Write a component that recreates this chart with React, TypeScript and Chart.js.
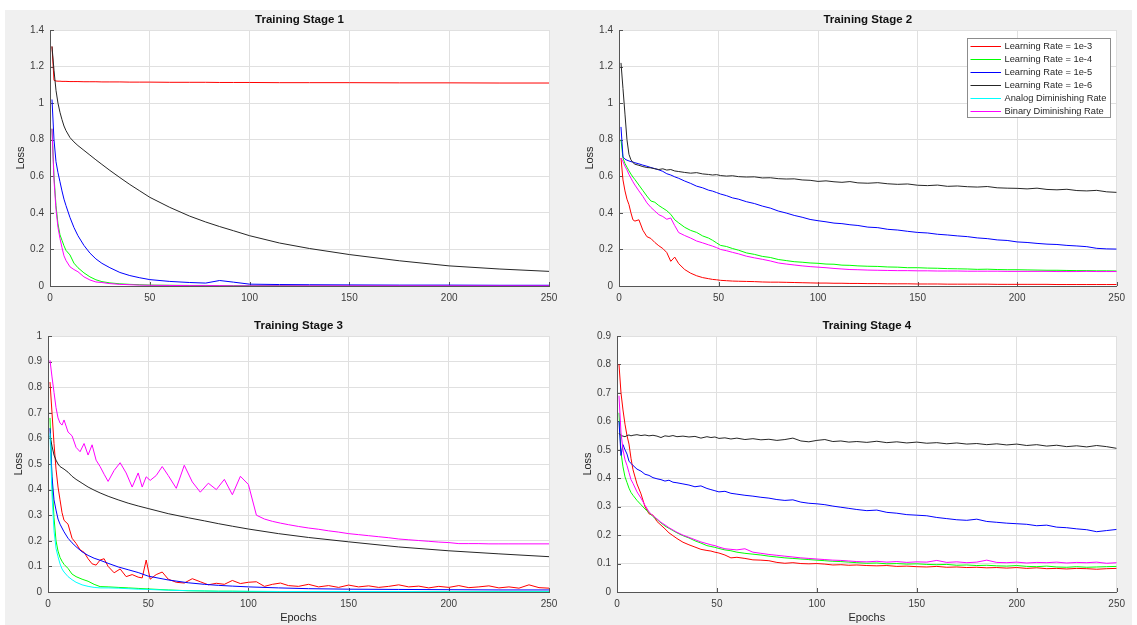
import React, { useEffect, useRef } from 'react';
import { Chart, registerables } from 'chart.js';

Chart.register(...registerables);

// ---------------- data ----------------
// epoch grids (x values)
const E_SMOOTH = [1, 2, 3, 4, 5, 6, 7, 8, 10, 12, 14, 17, 20, 23, 26, 30, 35, 40, 45, 50, 60, 70, 78, 85, 92, 100, 115, 130, 150, 175, 200, 225, 250];
const E_NOISY = [
  1, 2, 3, 4, 5, 6, 7, 8, 10, 12,
  14, 16, 18, 20, 22, 24, 26, 28, 30, 33,
  36, 39, 42, 45, 47, 49, 51, 54, 57, 60,
  64, 68, 72, 76, 80, 84, 88, 92, 96, 100,
  104, 108, 112, 116, 120, 125, 130, 135, 140, 145,
  150, 155, 160, 165, 170, 175, 180, 185, 190, 195,
  200, 205, 210, 215, 220, 225, 230, 235, 240, 245,
  250,
];

// Training Stage 1 (on E_SMOOTH)
const S1_LR3 = [1.31, 1.125, 1.121, 1.12, 1.12, 1.119, 1.119, 1.119, 1.118, 1.118, 1.118, 1.117, 1.117, 1.117, 1.116, 1.116, 1.116, 1.115, 1.115, 1.115, 1.114, 1.114, 1.114, 1.113, 1.113, 1.113, 1.112, 1.112, 1.112, 1.111, 1.111, 1.11, 1.11];
const S1_LR4 = [0.86, 0.6, 0.44, 0.34, 0.28, 0.25, 0.22, 0.195, 0.17, 0.125, 0.1, 0.072, 0.05, 0.034, 0.024, 0.017, 0.012, 0.009, 0.007, 0.005, 0.004, 0.003, 0.003, 0.002, 0.002, 0.002, 0.002, 0.001, 0.001, 0.001, 0.001, 0.001, 0.001];
const S1_LR5 = [1.02, 0.8, 0.68, 0.62, 0.57, 0.52, 0.475, 0.44, 0.375, 0.32, 0.275, 0.222, 0.18, 0.148, 0.124, 0.1, 0.074, 0.057, 0.045, 0.035, 0.025, 0.019, 0.016, 0.03, 0.021, 0.01, 0.008, 0.007, 0.006, 0.005, 0.005, 0.004, 0.004];
const S1_LR6 = [1.31, 1.18, 1.07, 1.0, 0.95, 0.91, 0.875, 0.85, 0.812, 0.788, 0.768, 0.742, 0.716, 0.69, 0.665, 0.632, 0.593, 0.555, 0.52, 0.485, 0.43, 0.382, 0.35, 0.325, 0.302, 0.275, 0.235, 0.205, 0.172, 0.138, 0.11, 0.093, 0.08];
const S1_BIN = [0.86, 0.58, 0.42, 0.32, 0.26, 0.21, 0.165, 0.14, 0.105, 0.09, 0.078, 0.05, 0.033, 0.022, 0.019, 0.013, 0.009, 0.007, 0.005, 0.004, 0.003, 0.002, 0.002, 0.002, 0.001, 0.001, 0.001, 0.001, 0.001, 0.001, 0.001, 0.001, 0.001];

// Training Stage 2 (on E_NOISY)
const S2_LR3 = [
  0.7, 0.58, 0.52, 0.475, 0.445, 0.4, 0.362, 0.355, 0.362, 0.305,
  0.27, 0.26, 0.238, 0.22, 0.205, 0.183, 0.135, 0.158, 0.122, 0.09,
  0.07, 0.056, 0.046, 0.04, 0.036, 0.034, 0.031, 0.029, 0.027, 0.026,
  0.025, 0.024, 0.022, 0.021, 0.021, 0.02, 0.019, 0.018, 0.017, 0.016,
  0.016, 0.015, 0.015, 0.014, 0.014, 0.013, 0.013, 0.012, 0.012, 0.012,
  0.011, 0.011, 0.011, 0.01, 0.01, 0.01, 0.01, 0.01, 0.009, 0.009,
  0.009, 0.009, 0.009, 0.009, 0.008, 0.008, 0.008, 0.008, 0.008, 0.008,
  0.008,
];
const S2_LR4 = [
  0.8, 0.7, 0.67, 0.65, 0.63, 0.612, 0.596, 0.582, 0.552, 0.522,
  0.492, 0.465, 0.458, 0.44, 0.426, 0.412, 0.392, 0.362, 0.345, 0.321,
  0.304, 0.293, 0.274, 0.262, 0.25, 0.236, 0.222, 0.216, 0.205, 0.196,
  0.181, 0.173, 0.162, 0.156, 0.145, 0.139, 0.133, 0.13, 0.126, 0.124,
  0.12, 0.119, 0.114, 0.113, 0.11, 0.108, 0.107, 0.104, 0.103, 0.1,
  0.1, 0.098, 0.097, 0.095, 0.094, 0.093, 0.091, 0.092, 0.09, 0.089,
  0.089, 0.088, 0.087, 0.086, 0.086, 0.085, 0.084, 0.084, 0.083, 0.083,
  0.082,
];
const S2_LR5 = [
  0.87, 0.705, 0.694, 0.688, 0.684, 0.68, 0.678, 0.674, 0.668, 0.661,
  0.655, 0.648, 0.642, 0.635, 0.627, 0.614, 0.607, 0.597, 0.589, 0.574,
  0.561, 0.546, 0.537, 0.524, 0.519, 0.511, 0.503, 0.494, 0.482, 0.475,
  0.461, 0.451, 0.437, 0.426, 0.41, 0.399, 0.386, 0.376, 0.364, 0.357,
  0.351, 0.344, 0.341, 0.335, 0.331, 0.322, 0.319, 0.31, 0.306, 0.299,
  0.293, 0.29, 0.283, 0.279, 0.274, 0.27, 0.263, 0.259, 0.252, 0.249,
  0.241, 0.238, 0.233, 0.229, 0.227, 0.222, 0.219, 0.215, 0.206, 0.203,
  0.202,
];
const S2_LR6 = [
  1.22, 1.08, 0.94, 0.8, 0.72, 0.69, 0.675, 0.666, 0.66, 0.653,
  0.648, 0.646, 0.641, 0.637, 0.641, 0.634, 0.637, 0.629, 0.626, 0.621,
  0.617, 0.62, 0.613, 0.61, 0.607, 0.609, 0.604, 0.601, 0.603, 0.598,
  0.596, 0.597, 0.591, 0.592, 0.587, 0.585, 0.586, 0.58, 0.578, 0.572,
  0.575, 0.57, 0.567, 0.571, 0.564, 0.562, 0.565, 0.559, 0.556, 0.558,
  0.551, 0.549, 0.552, 0.545, 0.547, 0.543, 0.541, 0.544, 0.537, 0.535,
  0.534, 0.531, 0.535, 0.528, 0.526, 0.529, 0.522, 0.52, 0.523, 0.515,
  0.512,
];
const S2_BIN = [
  0.7, 0.68, 0.655, 0.635, 0.61, 0.59, 0.57, 0.552, 0.52, 0.49,
  0.455, 0.43, 0.41, 0.39, 0.38, 0.365, 0.372, 0.33, 0.292, 0.276,
  0.262, 0.246, 0.236, 0.225, 0.218, 0.21, 0.2, 0.193, 0.184, 0.176,
  0.163, 0.154, 0.146, 0.137, 0.126, 0.12, 0.115, 0.11, 0.106, 0.103,
  0.1, 0.096, 0.093, 0.09, 0.089, 0.087, 0.086, 0.085, 0.084, 0.084,
  0.083, 0.083, 0.082, 0.082, 0.082, 0.081, 0.081, 0.081, 0.081, 0.08,
  0.08, 0.08, 0.08, 0.08, 0.079, 0.079, 0.079, 0.08, 0.079, 0.079,
  0.079,
];

// Training Stage 3
const S3_LR3 = [
  0.82, 0.7, 0.58, 0.48, 0.41, 0.36, 0.31, 0.28, 0.265, 0.21,
  0.19, 0.165, 0.155, 0.13, 0.11, 0.105, 0.125, 0.13, 0.1, 0.075,
  0.09, 0.06, 0.068, 0.058, 0.055, 0.125, 0.05, 0.068, 0.078, 0.05,
  0.038, 0.035, 0.052, 0.04, 0.028, 0.034, 0.03, 0.045, 0.033, 0.038,
  0.04, 0.022, 0.03, 0.035, 0.025, 0.022, 0.03, 0.02, 0.025, 0.018,
  0.027, 0.02, 0.024, 0.018, 0.022, 0.028, 0.02, 0.023, 0.016, 0.022,
  0.018, 0.025, 0.017, 0.02, 0.024, 0.016, 0.02, 0.015, 0.028, 0.017,
  0.015,
];
const S3_LR4 = [0.68, 0.43, 0.29, 0.2, 0.16, 0.135, 0.12, 0.108, 0.092, 0.07, 0.06, 0.05, 0.042, 0.03, 0.021, 0.02, 0.018, 0.016, 0.014, 0.012, 0.008, 0.005, 0.004, 0.003, 0.003, 0.002, 0.002, 0.001, 0.001, 0.001, 0.001, 0.001, 0.001];
const S3_LR5 = [0.64, 0.45, 0.36, 0.32, 0.285, 0.265, 0.25, 0.235, 0.21, 0.192, 0.177, 0.157, 0.143, 0.132, 0.124, 0.112, 0.098, 0.087, 0.076, 0.062, 0.047, 0.036, 0.03, 0.026, 0.023, 0.02, 0.016, 0.013, 0.011, 0.01, 0.009, 0.008, 0.008];
const S3_LR6 = [0.61, 0.57, 0.535, 0.515, 0.5, 0.49, 0.485, 0.48, 0.468, 0.452, 0.44, 0.425, 0.41, 0.398, 0.387, 0.374, 0.36, 0.347, 0.336, 0.326, 0.306, 0.29, 0.278, 0.267, 0.257, 0.246, 0.228, 0.213, 0.196, 0.176, 0.161, 0.149, 0.138];
const S3_ANA = [0.62, 0.38, 0.24, 0.17, 0.138, 0.11, 0.09, 0.078, 0.06, 0.048, 0.038, 0.028, 0.022, 0.018, 0.016, 0.016, 0.015, 0.013, 0.011, 0.01, 0.007, 0.005, 0.004, 0.003, 0.003, 0.003, 0.002, 0.002, 0.002, 0.002, 0.001, 0.001, 0.001];
const S3_BIN = [
  0.905, 0.84, 0.78, 0.72, 0.68, 0.66, 0.652, 0.672, 0.625, 0.61,
  0.565, 0.548, 0.58, 0.535, 0.575, 0.515, 0.49, 0.46, 0.432, 0.475,
  0.505, 0.465, 0.41, 0.465, 0.41, 0.45, 0.436, 0.455, 0.49, 0.455,
  0.405, 0.495, 0.43, 0.39, 0.425, 0.4, 0.44, 0.38, 0.452, 0.42,
  0.3, 0.285, 0.276, 0.269, 0.263, 0.256, 0.25, 0.245, 0.239, 0.234,
  0.228, 0.224, 0.22, 0.216, 0.212, 0.207, 0.204, 0.201, 0.198, 0.195,
  0.193, 0.189, 0.189, 0.189, 0.188, 0.188, 0.188, 0.188, 0.188, 0.188,
  0.188,
];

// Training Stage 4 (on E_NOISY)
const S4_LR3 = [
  0.8, 0.7, 0.64, 0.59, 0.55, 0.52, 0.47, 0.43, 0.38, 0.345,
  0.3, 0.275, 0.27, 0.248, 0.235, 0.222, 0.208, 0.198, 0.188, 0.175,
  0.166, 0.158, 0.15, 0.146, 0.144, 0.14, 0.137, 0.13, 0.12, 0.122,
  0.118, 0.113, 0.112, 0.11, 0.104, 0.101, 0.103, 0.1, 0.099, 0.1,
  0.098, 0.095, 0.096, 0.094, 0.095, 0.093, 0.092, 0.093, 0.09, 0.091,
  0.089, 0.088, 0.09, 0.087, 0.088, 0.086, 0.087, 0.085, 0.086, 0.084,
  0.086, 0.083, 0.085, 0.082, 0.083, 0.081, 0.083, 0.082, 0.08, 0.082,
  0.083,
];
const S4_LR4 = [
  0.63, 0.49, 0.44, 0.405, 0.385, 0.365, 0.35, 0.34, 0.322, 0.307,
  0.292, 0.28, 0.265, 0.255, 0.243, 0.232, 0.224, 0.216, 0.208, 0.198,
  0.19, 0.18, 0.172, 0.163, 0.16, 0.157, 0.153, 0.148, 0.145, 0.14,
  0.136, 0.133, 0.13, 0.126, 0.123, 0.12, 0.118, 0.116, 0.114, 0.112,
  0.11, 0.108, 0.107, 0.105, 0.103, 0.101, 0.102, 0.099, 0.1, 0.098,
  0.099, 0.097, 0.096, 0.097, 0.094, 0.095, 0.093, 0.094, 0.092, 0.091,
  0.093, 0.09, 0.089, 0.091, 0.088, 0.087, 0.089, 0.087, 0.088, 0.089,
  0.09,
];
const S4_LR5 = [
  0.6, 0.48, 0.518, 0.5, 0.485, 0.46, 0.452, 0.445, 0.432, 0.425,
  0.414, 0.41, 0.402, 0.398, 0.395, 0.39, 0.393, 0.386, 0.384, 0.38,
  0.376, 0.37, 0.373, 0.364, 0.36, 0.356, 0.352, 0.354, 0.347, 0.344,
  0.34, 0.337, 0.333, 0.33, 0.325, 0.322, 0.324, 0.316, 0.312, 0.31,
  0.307, 0.302, 0.298, 0.294, 0.29, 0.286, 0.288, 0.28, 0.277, 0.272,
  0.27, 0.268, 0.262, 0.258, 0.254, 0.252, 0.256, 0.248, 0.245, 0.242,
  0.24, 0.238, 0.233, 0.235, 0.228, 0.226, 0.222, 0.219, 0.212, 0.216,
  0.22,
];
const S4_LR6 = [
  0.558, 0.55, 0.548, 0.546, 0.55, 0.552, 0.549, 0.551, 0.553, 0.55,
  0.552, 0.549, 0.551, 0.548, 0.543, 0.549, 0.547, 0.55, 0.546, 0.548,
  0.545, 0.547, 0.541, 0.546, 0.543, 0.545, 0.54, 0.542, 0.538, 0.541,
  0.536, 0.539, 0.535, 0.537, 0.533, 0.536, 0.541, 0.531, 0.528, 0.533,
  0.536, 0.529, 0.531, 0.527, 0.529, 0.526, 0.53, 0.525, 0.528, 0.524,
  0.527, 0.523, 0.525, 0.521, 0.524, 0.52, 0.522, 0.518, 0.521, 0.517,
  0.52, 0.515, 0.518, 0.513, 0.516, 0.511, 0.514, 0.51, 0.515, 0.511,
  0.505,
];
const S4_BIN = [
  0.69, 0.56, 0.5, 0.465, 0.445, 0.42, 0.395, 0.382, 0.352, 0.33,
  0.305, 0.282, 0.268, 0.257, 0.245, 0.236, 0.226, 0.218, 0.21, 0.2,
  0.192, 0.184, 0.176, 0.17, 0.166, 0.163, 0.158, 0.152, 0.15, 0.148,
  0.152, 0.14, 0.136, 0.132, 0.129, 0.126, 0.123, 0.12, 0.118, 0.116,
  0.114, 0.112, 0.111, 0.109, 0.107, 0.106, 0.108, 0.105, 0.107, 0.104,
  0.106, 0.105, 0.111, 0.104, 0.106, 0.103, 0.105, 0.112, 0.104, 0.103,
  0.105, 0.102, 0.104, 0.103, 0.105, 0.102, 0.104, 0.103, 0.105, 0.101,
  0.103,
];

const LEGEND_LABELS = [
  'Learning Rate = 1e-3',
  'Learning Rate = 1e-4',
  'Learning Rate = 1e-5',
  'Learning Rate = 1e-6',
  'Analog Diminishing Rate',
  'Binary Diminishing Rate',
];

// ---------------- styles ----------------
const FONT = '"Liberation Sans", Arial, Helvetica, sans-serif';
const RED = '#ff0000';
const GREEN = '#00ff00';
const BLUE = '#0000ff';
const BLACK = '#262626';
const CYAN = '#00ffff';
const MAGENTA = '#ff00ff';
const LEGEND_COLORS = [RED, GREEN, BLUE, BLACK, CYAN, MAGENTA];
const GRID = '#e0e0e0';
const AXIS = '#555555';
const TICK_TEXT = '#3c3c3c';
const LABEL_TEXT = '#262626';
const FIG_BG = '#f0f0f0';

type Series = { label: string; color: string; xs: number[]; ys: number[] };
type Panel = {
  title: string;
  left: number;
  top: number;
  width: number;
  height: number;
  yMax: number;
  yStep: number;
  yAxisW: number;
  xAxisH: number;
  padTop: number;
  padRight: number;
  xTitle: boolean;
  legend: boolean;
  series: Series[];
};

const PANELS: Panel[] = [
  {
    title: 'Training Stage 1', left: 5, top: 10, width: 560, height: 300,
    yMax: 1.4, yStep: 0.2, yAxisW: 45, xAxisH: 24, padTop: 20, padRight: 16,
    xTitle: false, legend: false,
    series: [
      { label: LEGEND_LABELS[0], color: RED, xs: E_SMOOTH, ys: S1_LR3 },
      { label: LEGEND_LABELS[1], color: GREEN, xs: E_SMOOTH, ys: S1_LR4 },
      { label: LEGEND_LABELS[2], color: BLUE, xs: E_SMOOTH, ys: S1_LR5 },
      { label: LEGEND_LABELS[3], color: BLACK, xs: E_SMOOTH, ys: S1_LR6 },
      { label: LEGEND_LABELS[5], color: MAGENTA, xs: E_SMOOTH, ys: S1_BIN },
    ],
  },
  {
    title: 'Training Stage 2', left: 570, top: 10, width: 561, height: 300,
    yMax: 1.4, yStep: 0.2, yAxisW: 49, xAxisH: 24, padTop: 20, padRight: 12,
    xTitle: false, legend: true,
    series: [
      { label: LEGEND_LABELS[0], color: RED, xs: E_NOISY, ys: S2_LR3 },
      { label: LEGEND_LABELS[1], color: GREEN, xs: E_NOISY, ys: S2_LR4 },
      { label: LEGEND_LABELS[2], color: BLUE, xs: E_NOISY, ys: S2_LR5 },
      { label: LEGEND_LABELS[3], color: BLACK, xs: E_NOISY, ys: S2_LR6 },
      { label: LEGEND_LABELS[5], color: MAGENTA, xs: E_NOISY, ys: S2_BIN },
    ],
  },
  {
    title: 'Training Stage 3', left: 5, top: 315, width: 560, height: 310,
    yMax: 1, yStep: 0.1, yAxisW: 43, xAxisH: 33, padTop: 21, padRight: 16,
    xTitle: true, legend: false,
    series: [
      { label: LEGEND_LABELS[0], color: RED, xs: E_NOISY, ys: S3_LR3 },
      { label: LEGEND_LABELS[1], color: GREEN, xs: E_SMOOTH, ys: S3_LR4 },
      { label: LEGEND_LABELS[2], color: BLUE, xs: E_SMOOTH, ys: S3_LR5 },
      { label: LEGEND_LABELS[3], color: BLACK, xs: E_SMOOTH, ys: S3_LR6 },
      { label: LEGEND_LABELS[4], color: CYAN, xs: E_SMOOTH, ys: S3_ANA },
      { label: LEGEND_LABELS[5], color: MAGENTA, xs: E_NOISY, ys: S3_BIN },
    ],
  },
  {
    title: 'Training Stage 4', left: 570, top: 315, width: 561, height: 310,
    yMax: 0.9, yStep: 0.1, yAxisW: 47, xAxisH: 33, padTop: 21, padRight: 12,
    xTitle: true, legend: false,
    series: [
      { label: LEGEND_LABELS[0], color: RED, xs: E_NOISY, ys: S4_LR3 },
      { label: LEGEND_LABELS[1], color: GREEN, xs: E_NOISY, ys: S4_LR4 },
      { label: LEGEND_LABELS[2], color: BLUE, xs: E_NOISY, ys: S4_LR5 },
      { label: LEGEND_LABELS[3], color: BLACK, xs: E_NOISY, ys: S4_LR6 },
      { label: LEGEND_LABELS[5], color: MAGENTA, xs: E_NOISY, ys: S4_BIN },
    ],
  },
];

function decorPlugin(p: Panel) {
  return {
    id: 'panelDecor',
    beforeDraw(chart: any) {
      const { ctx, chartArea: a } = chart;
      ctx.save();
      ctx.fillStyle = '#ffffff';
      ctx.fillRect(a.left, a.top, a.right - a.left, a.bottom - a.top);
      ctx.restore();
    },
    beforeDatasetsDraw(chart: any) {
      const { ctx, chartArea: a, scales } = chart;
      const x = scales.x;
      const y = scales.y;
      ctx.save();
      ctx.strokeStyle = AXIS;
      ctx.lineWidth = 1;
      ctx.beginPath();
      x.ticks.forEach((t: any) => {
        const px = Math.round(x.getPixelForValue(t.value)) + 0.5;
        ctx.moveTo(px, a.bottom);
        ctx.lineTo(px, a.bottom - 4);
      });
      y.ticks.forEach((t: any) => {
        const py = Math.round(y.getPixelForValue(t.value)) + 0.5;
        ctx.moveTo(a.left, py);
        ctx.lineTo(a.left + 4, py);
      });
      ctx.stroke();
      ctx.restore();
    },
    afterDraw(chart: any) {
      const { ctx, chartArea: a } = chart;
      ctx.save();
      ctx.fillStyle = '#111111';
      ctx.font = `bold 11.5px ${FONT}`;
      ctx.textAlign = 'center';
      ctx.textBaseline = 'middle';
      ctx.fillText(p.title, (a.left + a.right) / 2, a.top - 10);

      if (p.legend) {
        const bw = 143;
        const bh = 79;
        const bx = Math.round(a.right - 7 - bw);
        const by = Math.round(a.top + 7.5);
        ctx.fillStyle = '#ffffff';
        ctx.fillRect(bx, by, bw, bh);
        ctx.strokeStyle = '#8c8c8c';
        ctx.lineWidth = 1;
        ctx.strokeRect(bx + 0.5, by + 0.5, bw, bh);
        ctx.font = `9.3px ${FONT}`;
        ctx.textAlign = 'left';
        ctx.textBaseline = 'middle';
        LEGEND_LABELS.forEach((lab, i) => {
          const cy = Math.round(by + 8.3 + i * 12.9) + 0.5;
          ctx.strokeStyle = LEGEND_COLORS[i];
          ctx.lineWidth = 1;
          ctx.beginPath();
          ctx.moveTo(bx + 3.5, cy);
          ctx.lineTo(bx + 34, cy);
          ctx.stroke();
          ctx.fillStyle = LABEL_TEXT;
          ctx.fillText(lab, bx + 37.5, cy);
        });
      }
      ctx.restore();
    },
  };
}

function fmt(v: any) {
  return String(parseFloat(Number(v).toFixed(2)));
}

function PanelChart({ p }: { p: Panel }) {
  const ref = useRef<HTMLCanvasElement>(null);
  useEffect(() => {
    const canvas = ref.current;
    if (!canvas) return;
    const n = p.series.length;
    const chart = new Chart(canvas, {
      type: 'line',
      data: {
        datasets: p.series.map((s, i) => ({
          label: s.label,
          data: s.xs.map((x, j) => ({ x, y: s.ys[j] })),
          borderColor: s.color,
          backgroundColor: s.color,
          borderWidth: 1,
          pointRadius: 0,
          pointHoverRadius: 0,
          tension: 0,
          fill: false,
          order: n - i,
        })),
      },
      options: {
        animation: false,
        responsive: false,
        devicePixelRatio: 1,
        events: [],
        layout: { padding: { top: p.padTop, right: p.padRight, bottom: 0, left: 0 } },
        plugins: {
          legend: { display: false },
          tooltip: { enabled: false },
          title: { display: false },
        },
        scales: {
          x: {
            type: 'linear',
            min: 0,
            max: 250,
            afterFit: (s: any) => { s.height = p.xAxisH; },
            ticks: {
              stepSize: 50,
              autoSkip: false,
              maxRotation: 0,
              padding: 6,
              color: TICK_TEXT,
              font: { family: FONT, size: 10 },
              callback: (v: any) => fmt(v),
            },
            grid: { color: GRID, lineWidth: 1, drawTicks: false },
            border: { display: true, color: AXIS, width: 1 },
            title: {
              display: p.xTitle,
              text: 'Epochs',
              color: LABEL_TEXT,
              font: { family: FONT, size: 11 },
              padding: { top: 0, bottom: 0.4 },
            },
          },
          y: {
            type: 'linear',
            min: 0,
            max: p.yMax,
            afterFit: (s: any) => { s.width = p.yAxisW; },
            ticks: {
              stepSize: p.yStep,
              autoSkip: false,
              padding: 6,
              color: TICK_TEXT,
              font: { family: FONT, size: 10 },
              callback: (v: any) => fmt(v),
            },
            grid: { color: GRID, lineWidth: 1, drawTicks: false },
            border: { display: true, color: AXIS, width: 1 },
            title: {
              display: true,
              text: 'Loss',
              color: LABEL_TEXT,
              font: { family: FONT, size: 11 },
              padding: { top: p.yAxisW - 35.6, bottom: 0 },
            },
          },
        },
      } as any,
      plugins: [decorPlugin(p)],
    });
    return () => chart.destroy();
  }, [p]);
  return (
    <canvas
      ref={ref}
      width={p.width}
      height={p.height}
      style={{ position: 'absolute', left: p.left, top: p.top, width: p.width, height: p.height }}
    />
  );
}

export default function App() {
  return (
    <div style={{ position: 'fixed', left: 0, top: 0, width: 1137, height: 625, background: '#ffffff', overflow: 'hidden' }}>
      <div style={{ position: 'absolute', left: 5, top: 10, width: 1127, height: 615, background: FIG_BG }} />
      {PANELS.map((p) => (
        <PanelChart key={p.title} p={p} />
      ))}
    </div>
  );
}
